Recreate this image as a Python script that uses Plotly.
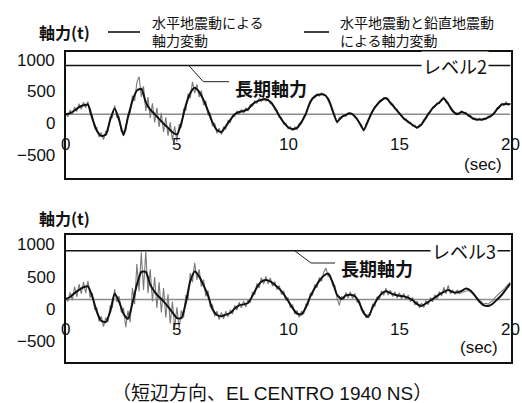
import numpy as np
import plotly.graph_objects as go

W, H = 522, 403

# Sampling grids for the axial-force histories (seconds)
t_coarse = np.round(np.arange(0, 20.0001, 0.2), 1)
t_fine = np.round(np.arange(0, 20.0001, 0.1), 1)

# Upper panel: axial force (t) from horizontal motion only (0.2 s steps)
top_horizontal = [
    150, 165, 210, 260, 290, 300, 80, -110, -190, -175,
    60, 240, 60, -180, 100, 360, 520, 550, 340, 220,
    150, 75, 0, -65, -135, -170, 10, 290, 480, 565,
    500, 370, 200, 20, -100, -130, -40, 60, 150, 185,
    200, 230, 305, 350, 378, 383, 345, 250, 125, 20,
    -55, -85, -65, 25, 160, 346, 430, 458, 462, 390,
    210, 31, 105, 140, 163, 115, 20, -99, 50, 200,
    300, 370, 405, 330, 250, 165, 84, 30, -20, -60,
    -10, 95, 200, 280, 335, 395, 310, 200, 150, 185,
    160, 110, 70, 65, 70, 100, 140, 230, 300, 310,
    305,
]

# Upper panel: horizontal + vertical motion (0.1 s steps)
top_combined = [
    150, 110, 215, 140, 265, 190, 315, 225, 340, 250,
    350, 140, 130, -70, -60, -210, -140, -250, -120, -120,
    110, 100, 290, 100, 110, -120, -120, -110, 160, 170,
    440, 360, 650, 740, 420, 590, 200, 420, 90, 320,
    20, 250, -50, 170, -130, 100, -190, 20, -260, -40,
    -280, -10, -60, 230, 210, 470, 400, 660, 480, 620,
    420, 520, 290, 360, 130, 170, -40, 10, -150, -70,
    -170, -50, -80, 50, 20, 140, 115, 200, 155, 225,
    170, 245, 200, 300, 275, 360, 320, 395, 350, 410,
    355, 390, 315, 325, 220, 215, 100, 95, -5, 5,
    -80, -45, -110, -50, -90, 5, 0, 115, 135, 275,
    320, 410, 405, 470, 435, 485, 440, 450, 365, 325,
    185, 145, 5, 95, 80, 145, 115, 175, 140, 160,
    95, 90, 0, -20, -120, -5, 30, 145, 180, 270,
    280, 355, 350, 410, 385, 390, 310, 310, 230, 228,
    145, 145, 65, 77, 10, 25, -40, -20, -80, -15,
    -30, 62, 75, 168, 180, 260, 260, 328, 315, 390,
    420, 330, 330, 235, 220, 155, 170, 148, 205, 152,
    180, 115, 130, 70, 90, 48, 85, 48, 90, 65,
    120, 100, 160, 165, 250, 245, 320, 285, 345, 290,
    320,
]

# Lower panel: horizontal motion only (0.2 s steps)
bottom_horizontal = [
    160, 190, 250, 300, 340, 355, 190, -40, -180, -200,
    -40, 240, 120, -70, -150, 90, 381, 580, 580, 381,
    270, 190, 122, 40, -50, -137, -140, 100, 433, 585,
    510, 370, 210, 0, -90, -108, -85, -59, 10, 60,
    75, 95, 210, 340, 430, 455, 433, 380, 320, 235,
    130, 20, -70, -80, 30, 200, 330, 440, 520, 555,
    420, 225, 160, 215, 225, 200, 100, -60, -120, 30,
    150, 240, 280, 250, 225, 210, 200, 175, 140, 80,
    50, 90, 135, 180, 230, 270, 300, 265, 260, 285,
    320, 290, 210, 120, 60, 50, 85, 150, 220, 310,
    400,
]

# Lower panel: horizontal + vertical motion (0.1 s steps)
bottom_combined = [
    160, 120, 260, 140, 350, 190, 390, 240, 420, 250,
    440, 180, 250, 0, 20, -190, -110, -270, -130, -200,
    50, 30, 310, 110, 200, -50, 20, -280, -20, -200,
    330, 80, 700, 280, 880, 300, 900, 250, 620, 120,
    500, 20, 420, -50, 330, -130, 230, -220, 120, -290,
    30, -300, -20, -130, 220, 140, 560, 420, 720, 460,
    620, 350, 460, 200, 290, 30, 70, -110, -30, -160,
    -50, -150, -30, -120, -10, -75, 60, -15, 110, 20,
    125, 35, 150, 100, 265, 225, 400, 330, 490, 390,
    510, 395, 485, 355, 430, 300, 370, 230, 285, 135,
    180, 25, 70, -75, -20, -125, -30, -75, 80, 65,
    250, 215, 380, 335, 490, 430, 570, 640, 510, 530,
    370, 370, 175, 60, 200, 145, 260, 175, 270, 165,
    245, 105, 145, -20, -20, -130, -80, -90, 75, 45,
    195, 150, 285, 215, 325, 220, 295, 195, 270, 175,
    255, 160, 245, 145, 220, 115, 185, 65, 125, 20,
    95, 25, 135, 70, 180, 115, 225, 160, 275, 205,
    340, 240, 370, 240, 300, 230, 300, 240, 260, 270,
    290, 290, 270, 240, 210, 180, 140, 110, 80, 90,
    80, 110, 130, 180, 210, 250, 280, 310, 350, 380,
    420,
]

baseline_force = 150            # thin grey reference line (t)
level_values = [915, 908]       # design level lines (t)
level_labels = ["レベル2", "レベル3"]
x_ticks = [0, 5, 10, 15, 20]
y_ticks = [1000, 500, 0, -500, -1000]

legend_texts = ["水平地震動による<br>軸力変動", "水平地震動と鉛直地震動<br>による軸力変動"]
y_title = "軸力(t)"
callout = "長期軸力"
caption = "（短辺方向、EL CENTRO 1940 NS）"

JP = "Noto Sans CJK JP"
NUM = "Liberation Sans, Noto Sans CJK JP"


def px(x, y):
    """Pixel position on the page -> paper coordinates."""
    return x / W, 1 - y / H


def label(x, y, text, size, family=JP, xanchor="center", **kw):
    """Text placed at a pixel position, centred vertically."""
    px_, py_ = px(x, y)
    return dict(x=px_, y=py_, xref="paper", yref="paper", text=text, showarrow=False,
                xanchor=xanchor, yanchor="middle",
                font=dict(family=family, size=size, color="#111"), **kw)


# panel frames (pixels)
X0, X1 = 65.7, 510.5
panels = [
    dict(top=51.7, bot=178.3, yr=[-858, 1132], xa="x", ya="y",
         xtick_y=145, sec=(483, 164), title_y=32,
         callout=(271, 88), leader=[(188.3, 65), (203.3, 81.7), (229, 81.7)],
         level_lab=(455, 66)),
    dict(top=235.0, bot=361.7, yr=[-815, 1152], xa="x2", ya="y2",
         xtick_y=329, sec=(479, 347), title_y=218,
         callout=(377, 268), leader=[(295, 251), (311, 263), (335, 263)],
         level_lab=(464, 251)),
]
series = [(top_horizontal, top_combined), (bottom_horizontal, bottom_combined)]

fig = go.Figure()
annotations = []
shapes = []
layout_axes = {}

for i, (p, (smooth, combined)) in enumerate(zip(panels, series)):
    xa, ya = p["xa"], p["ya"]
    # grey reference line and level line
    fig.add_trace(go.Scatter(x=[x_ticks[0], x_ticks[-1]], y=[baseline_force] * 2, mode="lines",
                             line=dict(color="#8c8c8c", width=1.5), xaxis=xa, yaxis=ya,
                             showlegend=False, hoverinfo="skip"))
    fig.add_trace(go.Scatter(x=[x_ticks[0], x_ticks[-1]], y=[level_values[i]] * 2, mode="lines",
                             line=dict(color="#111", width=1.6), xaxis=xa, yaxis=ya,
                             showlegend=False, hoverinfo="skip"))
    # horizontal + vertical motion
    fig.add_trace(go.Scatter(x=t_fine, y=combined, mode="lines",
                             line=dict(color="#7a7a7a", width=1.1), xaxis=xa, yaxis=ya,
                             showlegend=False))
    # horizontal motion only
    fig.add_trace(go.Scatter(x=t_coarse, y=smooth, mode="lines",
                             line=dict(color="#111", width=2, shape="spline", smoothing=0.6),
                             xaxis=xa, yaxis=ya, showlegend=False))

    axis_style = dict(showline=True, mirror=True, linewidth=2, linecolor="#111",
                      showgrid=False, zeroline=False, showticklabels=False, ticks="")
    xkey = "xaxis" if i == 0 else "xaxis2"
    ykey = "yaxis" if i == 0 else "yaxis2"
    layout_axes[xkey] = dict(axis_style, domain=[X0 / W, X1 / W], range=[0, 20], anchor=ya)
    layout_axes[ykey] = dict(axis_style, domain=[1 - p["bot"] / H, 1 - p["top"] / H],
                             range=p["yr"], anchor=xa)

    # y tick labels
    for v in y_ticks:
        annotations.append(dict(x=57 / W, xref="paper", y=v, yref=ya, text=str(v).replace("-", "−"),
                                showarrow=False, xanchor="right", yanchor="middle",
                                font=dict(family=NUM, size=17, color="#111")))
    # x tick labels inside the frame
    for v in x_ticks:
        annotations.append(dict(x=v, xref=xa, y=px(0, p["xtick_y"])[1], yref="paper", text=str(v),
                                showarrow=False, xanchor="center", yanchor="middle",
                                font=dict(family=NUM, size=17, color="#111")))
    annotations.append(label(*p["sec"], "(sec)", 17, family=NUM))
    annotations.append(label(64, p["title_y"], "<b>" + y_title + "</b>", 16))
    annotations.append(label(*p["callout"], "<b>" + callout + "</b>", 18))
    annotations.append(label(*p["level_lab"], level_labels[i], 18, bgcolor="white", borderpad=1))
    pts = [px(*q) for q in p["leader"]]
    path = "M {} {} L {} {} L {} {}".format(pts[0][0], pts[0][1], pts[1][0], pts[1][1],
                                            pts[2][0], pts[2][1])
    shapes.append(dict(type="path", path=path, xref="paper", yref="paper",
                       line=dict(color="#222", width=1)))

# legend
legend_lines = [(108, 140), (304, 329)]
legend_text_x = [150, 338]
for (a, b), x_text, txt in zip(legend_lines, legend_text_x, legend_texts):
    (xa_, ly_), (xb_, _) = px(a, 32), px(b, 32)
    shapes.append(dict(type="line", x0=xa_, x1=xb_, y0=ly_, y1=ly_, xref="paper", yref="paper",
                       line=dict(color="#111", width=1.6)))
    annotations.append(label(x_text, 31, txt, 14, xanchor="left", align="left"))

annotations.append(label(272, 393, caption, 19, family=NUM))

fig.update_layout(width=W, height=H, autosize=False,
                  margin=dict(l=0, r=0, t=0, b=0),
                  paper_bgcolor="white", plot_bgcolor="white",
                  annotations=annotations, shapes=shapes, **layout_axes)

fig.write_html("out.html")
